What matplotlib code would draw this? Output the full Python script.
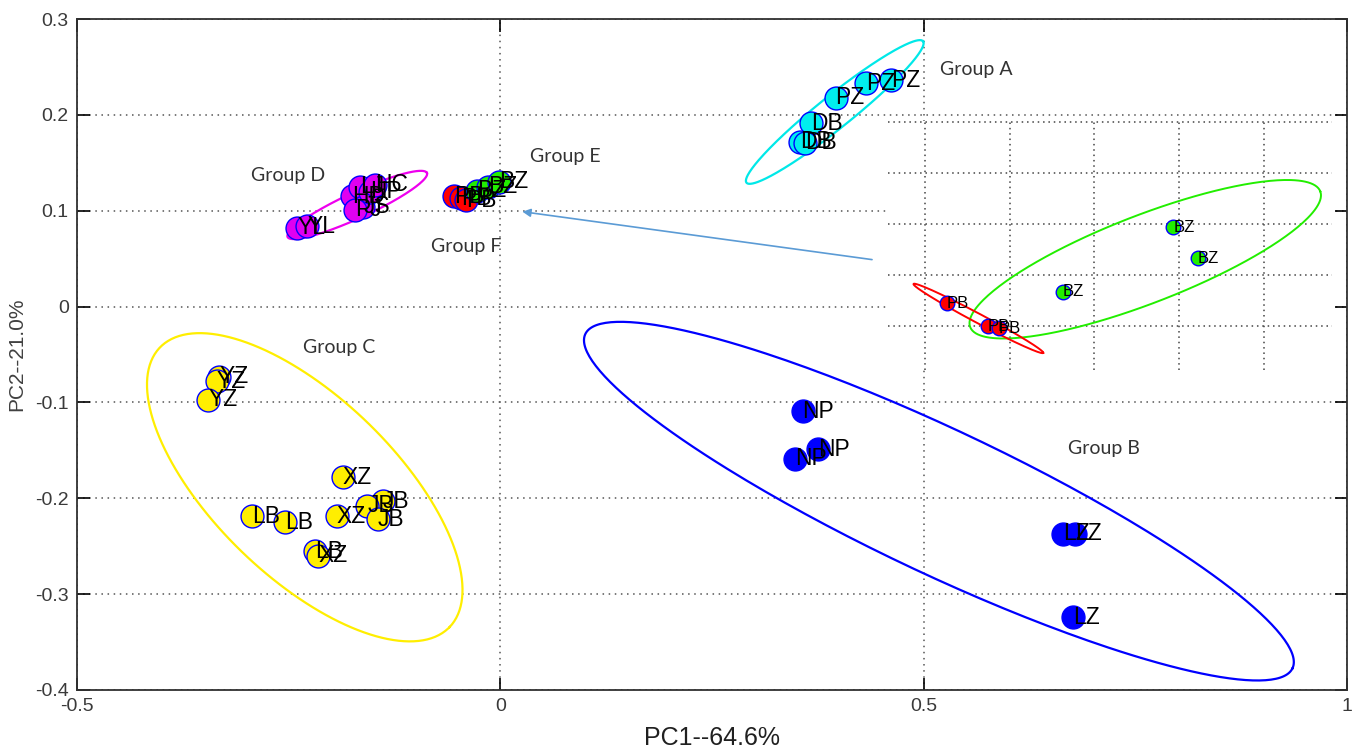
import numpy as np
import matplotlib
matplotlib.use("Agg")
from matplotlib import pyplot as plt

# ---- data ----
# group A (cyan)
a_x = [0.396, 0.432, 0.461, 0.367, 0.354, 0.360]
a_y = [0.218, 0.233, 0.236, 0.191, 0.172, 0.171]
a_lab = ['PZ', 'PZ', 'PZ', 'DB', 'DB', 'DB']

# group B (blue)
b_x = [0.357, 0.375, 0.348, 0.665, 0.679, 0.676]
b_y = [-0.109, -0.149, -0.159, -0.237, -0.237, -0.324]
b_lab = ['NP', 'NP', 'NP', 'LZ', 'LZ', 'LZ']

# group C (yellow)
c_x = [-0.332, -0.335, -0.345, -0.186, -0.193, -0.293, -0.254,
       -0.139, -0.157, -0.145, -0.219, -0.215]
c_y = [-0.073, -0.078, -0.097, -0.178, -0.219, -0.219, -0.225,
       -0.203, -0.208, -0.222, -0.255, -0.260]
c_lab = ['YZ', 'YZ', 'YZ', 'XZ', 'XZ', 'LB', 'LB',
         'JB', 'JB', 'JB', 'LB', 'XZ']

# group D (magenta)
d_x = [-0.175, -0.166, -0.162, -0.172, -0.154, -0.148, -0.240, -0.228]
d_y = [0.115, 0.125, 0.104, 0.101, 0.120, 0.127, 0.082, 0.084]
d_lab = ['HD', 'LJ', 'JS', 'PJ', 'HP', 'HC', 'YL', 'YL']

# group F (red) and E (green) in main plot
f_x = [-0.055, -0.046, -0.040]
f_y = [0.115, 0.113, 0.111]
f_lab = ['PB', 'PB', 'PB']
e_x = [-0.028, -0.015, -0.002]
e_y = [0.121, 0.125, 0.130]
e_lab = ['BZ', 'BZ', 'BZ']

# zoomed view of E / F (inset, own units)
zf_x = [0.26, 0.74, 0.87]
zf_y = [0.45, 0.00, -0.04]
ze_x = [1.63, 2.93, 3.22]
ze_y = [0.67, 1.94, 1.33]

# ellipses: centre x, centre y, semi-major, semi-minor (y units), screen angle
ell_main = {
    '#00e8e8': (0.395, 0.203, 0.118, 0.017, 38.7),
    '#ee00ee': (-0.169, 0.106, 0.080, 0.0135, 24.7),
    '#ffee00': (-0.231, -0.1885, 0.210, 0.094, -44.0),
    '#0000ff': (0.518, -0.203, 0.408, 0.075, -25.3),
}
ell_zoom = {
    '#22ee00': (2.60, 1.31, 3.68, 0.86, 21.2),
    '#ff0000': (0.63, 0.15, 1.44, 0.09, -28.0),
}

groups = [('Group A', 0.519, 0.247), ('Group B', 0.670, -0.148),
          ('Group C', -0.233, -0.043), ('Group D', -0.294, 0.137),
          ('Group E', 0.035, 0.157), ('Group F', -0.082, 0.063)]

W, H = 1352, 750
fig = plt.figure(figsize=(W / 100, H / 100), dpi=100)
ax = fig.add_axes([77 / W, 60 / H, 1270 / W, 671 / H])
ax.set_xlim(-0.5, 1)
ax.set_ylim(-0.4, 0.3)
ax.set_xticks([-0.5, 0, 0.5, 1])
ax.set_xticklabels(['-0.5', '0', '0.5', '1'])
ax.set_yticks(np.round(np.arange(-0.4, 0.31, 0.1), 1))
ax.set_yticklabels(['-0.4', '-0.3', '-0.2', '-0.1', '0', '0.1', '0.2', '0.3'])

tickfont = ['Liberation Sans Narrow', 'Liberation Sans', 'DejaVu Sans']
ax.tick_params(direction='in', length=9, width=1.2, top=True, right=True,
               labelsize=14, labelcolor='#3a3a3a', pad=6)
for lab in ax.get_xticklabels() + ax.get_yticklabels():
    lab.set_family(tickfont)
for s in ax.spines.values():
    s.set_linewidth(1.3)
    s.set_color('#303030')
ax.grid(True, color='#555555', linestyle=(0, (1, 3)), linewidth=1.1)
ax.set_axisbelow(True)
ax.set_xlabel('PC1--64.6%', fontsize=18, family=tickfont, color='#202020', labelpad=8)
ax.set_ylabel('PC2--21.0%', fontsize=15, family=tickfont, color='#404040', labelpad=6)


def draw_ellipse(axis, cx, cy, a, b, ang, color, lw=1.6):
    fw, fh = fig.get_size_inches()
    pos = axis.get_position()
    x0, x1 = axis.get_xlim()
    y0, y1 = axis.get_ylim()
    kx = pos.width * fw / (x1 - x0)
    ky = pos.height * fh / (y1 - y0)
    t = np.linspace(0, 2 * np.pi, 300)
    th = np.deg2rad(ang)
    u = a * np.cos(t)
    v = b * np.sin(t)
    sx = u * np.cos(th) - v * np.sin(th)
    sy = u * np.sin(th) + v * np.cos(th)
    axis.plot(cx + sx * ky / kx, cy + sy, color=color, lw=lw, zorder=2)


for col, (cx, cy, a, b, ang) in ell_main.items():
    draw_ellipse(ax, cx, cy, a, b, ang, col)


def draw_points(axis, xs, ys, labels, color, ms=16.5, fs=16.5):
    axis.plot(xs, ys, 'o', ms=ms, mfc=color, mec='#0000ff', mew=1.0,
              linestyle='none', zorder=3)
    for x, y, t in zip(xs, ys, labels):
        axis.text(x, y, t, ha='left', va='center', fontsize=fs,
                  family=['Liberation Sans', 'DejaVu Sans'], color='black', zorder=4)


draw_points(ax, a_x, a_y, a_lab, '#00eeee')
draw_points(ax, b_x, b_y, b_lab, '#0000ff')
draw_points(ax, c_x, c_y, c_lab, '#ffee00')
draw_points(ax, d_x, d_y, d_lab, '#e000f0')
draw_points(ax, f_x, f_y, f_lab, '#ff0000')
draw_points(ax, e_x, e_y, e_lab, '#22ee00')

for name, gx, gy in groups:
    ax.text(gx, gy, name, fontsize=14, family=['Lato', 'DejaVu Sans'],
            color='#333333', ha='left', va='center', zorder=5)

# arrow from inset back to groups E/F
ax.annotate('', xy=(0.026, 0.099), xytext=(0.439, 0.049),
            arrowprops=dict(arrowstyle='-|>', color='#5b9bd5', lw=1.2,
                            mutation_scale=12, shrinkA=0, shrinkB=0),
            zorder=6)

# inset (zoomed E / F)
ins = fig.add_axes([888 / W, (H - 370) / H, 444 / W, 249 / H])
ins.set_xlim(-0.437, 4.805)
ins.set_ylim(-0.861, 4.02)
ins.set_xticks([0, 1, 2, 3, 4])
ins.set_yticks([0, 1, 2, 3, 4])
ins.tick_params(length=0, labelbottom=False, labelleft=False)
for s in ins.spines.values():
    s.set_visible(False)
ins.grid(True, color='#444444', linestyle=(0, (1, 2.5)), linewidth=1.1)
ins.set_axisbelow(True)
for col, (cx, cy, a, b, ang) in ell_zoom.items():
    draw_ellipse(ins, cx, cy, a, b, ang, col, lw=1.4)
draw_points(ins, zf_x, zf_y, ['PB'] * 3, '#ff0000', ms=10.5, fs=12)
draw_points(ins, ze_x, ze_y, ['BZ'] * 3, '#22ee00', ms=10.5, fs=12)

fig.savefig('out.png', dpi=100)
